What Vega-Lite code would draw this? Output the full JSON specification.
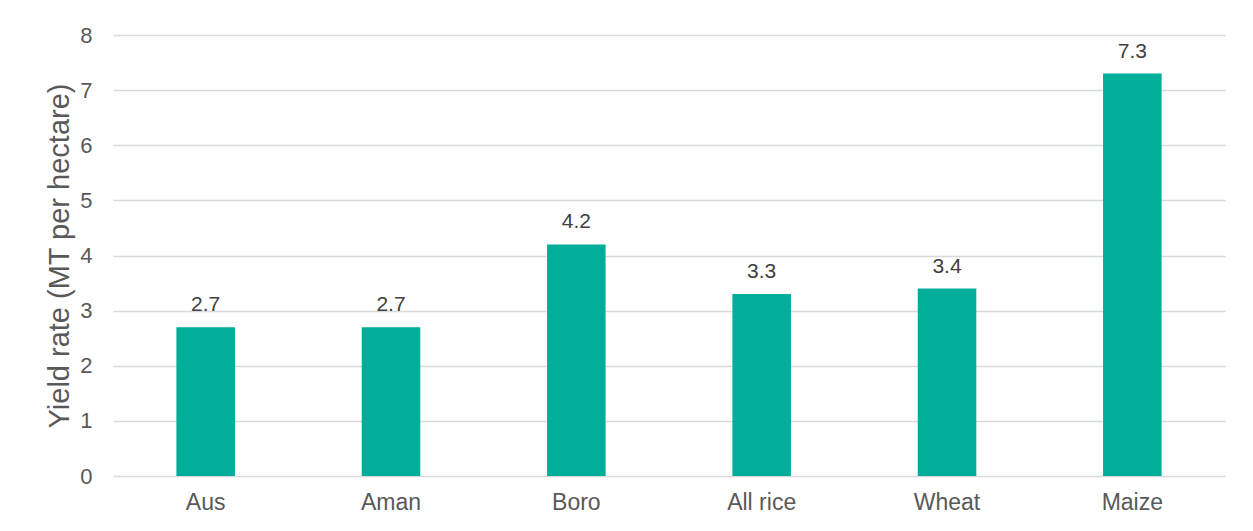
{
  "$schema": "https://vega.github.io/schema/vega-lite/v6.json",
  "autosize": "none",
  "width": 1112,
  "height": 441,
  "padding": {"left": 113, "top": 35, "right": 28, "bottom": 55},
  "background": "white",
  "config": {"view": {"stroke": null}, "font": "Liberation Sans"},
  "data": {"values": [
    {"crop": "Aus", "yield": 2.7},
    {"crop": "Aman", "yield": 2.7},
    {"crop": "Boro", "yield": 4.2},
    {"crop": "All rice", "yield": 3.3},
    {"crop": "Wheat", "yield": 3.4},
    {"crop": "Maize", "yield": 7.3}
  ]},
  "encoding": {
    "x": {"field": "crop", "type": "nominal", "sort": null,
      "scale": {"paddingInner": 0.684, "paddingOuter": 0.342},
      "axis": {"title": null, "labelAngle": 0, "labelFontSize": 23, "labelColor": "#595959", "labelPadding": 15, "ticks": false, "domain": false}},
    "y": {"field": "yield", "type": "quantitative",
      "scale": {"domain": [0, 8]},
      "axis": {"title": "Yield rate (MT per hectare)", "titleFontSize": 29, "titleFontWeight": "normal", "titleColor": "#595959", "titlePadding": 5,
        "labelFontSize": 22, "labelColor": "#595959", "labelPadding": 21, "ticks": false, "domain": false,
        "values": [0,1,2,3,4,5,6,7,8], "labelOverlap": false, "gridColor": "#d9d9d9", "gridWidth": 1.5}}
  },
  "layer": [
    {"mark": {"type": "bar", "color": "#00AE9A"}},
    {"mark": {"type": "text", "baseline": "alphabetic", "dy": -16, "fontSize": 21, "color": "#404040"},
     "encoding": {"text": {"field": "yield", "type": "quantitative", "format": ".1f"}}}
  ]
}
